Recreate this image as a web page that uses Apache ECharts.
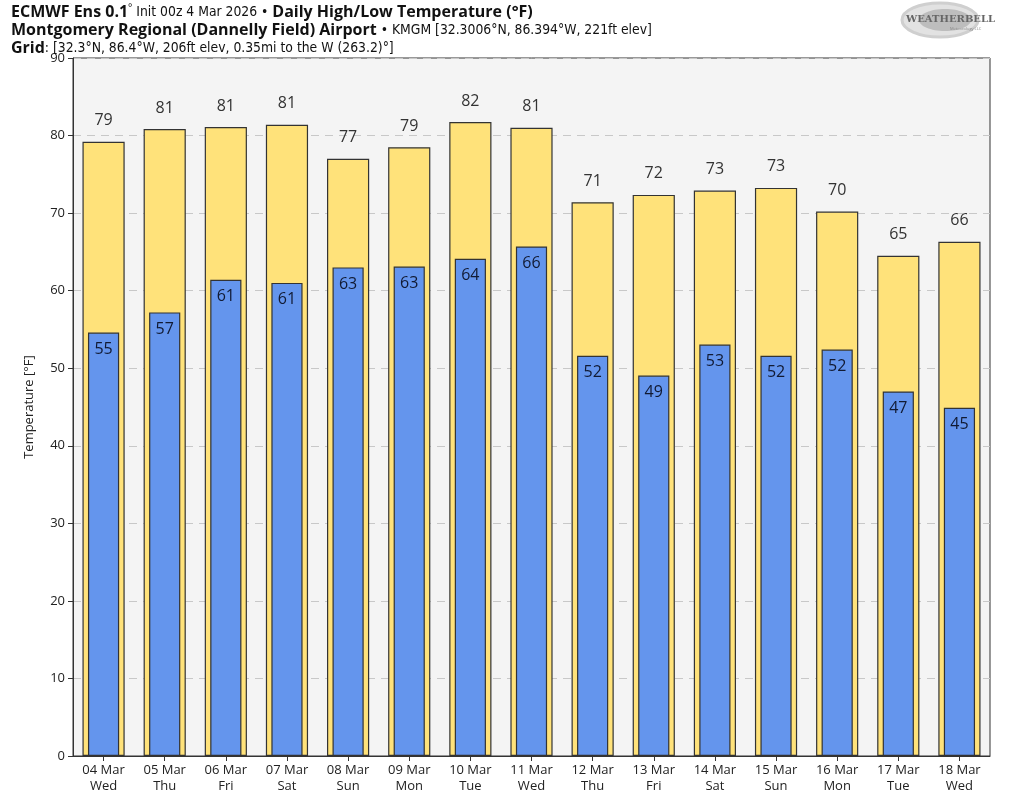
<!DOCTYPE html>
<html><head><meta charset="utf-8">
<script src="https://cdn.jsdelivr.net/npm/echarts@6/dist/echarts.min.js"></script>
<style>html,body{margin:0;padding:0;background:#fff}#c{width:1024px;height:794px}</style>
</head><body><div id="c"></div>
<script>
const dates = ["04 Mar","05 Mar","06 Mar","07 Mar","08 Mar","09 Mar","10 Mar","11 Mar","12 Mar","13 Mar","14 Mar","15 Mar","16 Mar","17 Mar","18 Mar"];
const weekdays = ["Wed","Thu","Fri","Sat","Sun","Mon","Tue","Wed","Thu","Fri","Sat","Sun","Mon","Tue","Wed"];
const highs = [79.2,80.85,81.1,81.4,77.0,78.5,81.75,81.0,71.4,72.35,72.9,73.25,70.2,64.5,66.3];
const lows = [54.6,57.2,61.4,61.0,63.0,63.1,64.1,65.7,51.6,49.05,53.05,51.6,52.4,47.0,44.9];
const yTicks = [0,10,20,30,40,50,60,70,80,90];

const cats = dates.map((d,i)=>d+"\n"+weekdays[i]);
const chart = echarts.init(document.getElementById('c'));
const F = "'Open Sans', 'Noto Sans', sans-serif";
const NF = "'DejaVu Sans Condensed', 'Liberation Sans Narrow', sans-serif";
chart.setOption({
  backgroundColor:'#fff',
  animation:false,
  title:{
    left:6, top:-2,
    text:"{b|ECMWF Ens 0.1}{s|°}{n| Init 00z 4 Mar 2026 • }{b|Daily High/Low Temperature (°F)}\n{b|Montgomery Regional (Dannelly Field) Airport}{n| • KMGM [32.3006°N, 86.394°W, 221ft elev]}\n{b|Grid}{n|: [32.3°N, 86.4°W, 206ft elev, 0.35mi to the W (263.2)°]}",
    textStyle:{
      fontWeight:'normal',
      rich:{
        b:{fontFamily:F,fontWeight:'bold',fontSize:16,color:'#111',lineHeight:18},
        s:{fontFamily:F,fontWeight:'normal',fontSize:10,color:'#111',lineHeight:18,verticalAlign:'top'},
        n:{fontFamily:NF,fontWeight:'normal',fontSize:13.8,color:'#111',lineHeight:18}
      }
    }
  },
  graphic:[
    {type:'ellipse',shape:{cx:940,cy:20,rx:38,ry:17},style:{fill:'#e2e2e2',stroke:'#cfcfcf',lineWidth:3}},
    {type:'ellipse',shape:{cx:945,cy:20,rx:26,ry:11},style:{fill:'#bdbdbd'}},
    {type:'text',left:906,top:14,style:{text:'WEATHERBELL',fontFamily:"'DejaVu Serif', serif",fontSize:10,fontWeight:'bold',fill:'#666'}},
    {type:'text',left:950,top:27,style:{text:'Meteorology LLC',fontFamily:F,fontSize:4,fill:'#888'}}
  ],
  grid:{left:73,right:34,top:58,bottom:37,show:true,backgroundColor:'#f4f4f4',borderColor:'#333',borderWidth:1},
  xAxis:[
    {type:'category',data:cats,axisTick:{show:true,alignWithLabel:true,length:5,lineStyle:{color:'#333'}},
     axisLine:{lineStyle:{color:'#333'}},
     axisLabel:{fontFamily:F,fontSize:13,color:'#222',lineHeight:16,margin:6,interval:0}},
    {type:'category',data:cats,show:false}
  ],
  yAxis:{type:'value',min:0,max:90,interval:10,name:'Temperature [°F]',nameLocation:'middle',nameGap:37,
    nameTextStyle:{fontFamily:F,fontSize:13,color:'#222'},
    axisLine:{show:true,lineStyle:{color:'#333'}},
    axisTick:{show:true,length:5,lineStyle:{color:'#333'}},
    axisLabel:{fontFamily:F,fontSize:13,color:'#222',margin:8,formatter:v=>yTicks.includes(v)?String(v):''},
    splitLine:{show:true,lineStyle:{color:'#c8c8c8',type:[8,6],width:1}}
  },
  series:[
    {type:'bar',xAxisIndex:0,data:highs,barWidth:'69%',
     itemStyle:{color:'#FFE27A',borderColor:'#333',borderWidth:1.2},
     label:{show:true,position:'top',distance:13,formatter:p=>Math.round(p.value),fontFamily:F,fontSize:16,color:'#333'}},
    {type:'bar',xAxisIndex:1,data:lows,barWidth:'51%',
     itemStyle:{color:'#6495ED',borderColor:'#333',borderWidth:1.2},
     label:{show:true,position:'insideTop',distance:9,formatter:p=>Math.round(p.value),fontFamily:F,fontSize:16,color:'#111a33'}}
  ]
});
</script></body></html>
